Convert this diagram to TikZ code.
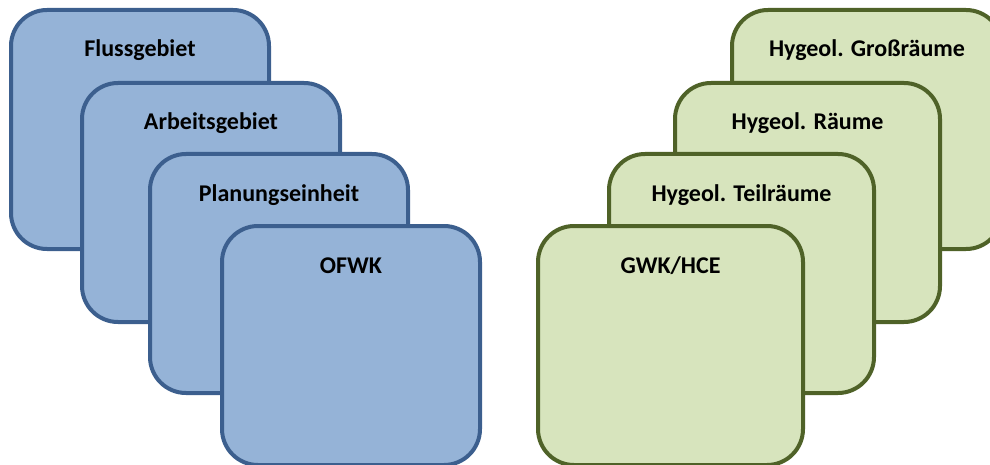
\documentclass[tikz,border=0pt]{standalone}
\usepackage{fontspec}
\setmainfont{Carlito}
\usetikzlibrary{positioning}
\definecolor{blueline}{HTML}{3C5F8E}
\definecolor{bluefill}{HTML}{95B3D7}
\definecolor{greenline}{HTML}{4F6228}
\definecolor{greenfill}{HTML}{D7E4BD}
\begin{document}
\begin{tikzpicture}[x=1pt,y=-1pt,font=\fontsize{24}{27}\selectfont\bfseries,
              lay/.style={draw,line width=4pt,rounded corners=36pt,anchor=north west,
              inner sep=0pt,text height=47pt,text depth=192pt,align=center},
              ow/.style={lay,draw=blueline,fill=bluefill,minimum width=258pt},
              gw/.style={lay,draw=greenline,fill=greenfill,minimum width=265pt}]
              \useasboundingbox (0,0) rectangle (990,465);
              % surface water
              \node[ow] (fg) at (9,8) {Flussgebiet};
              \node[ow] (ag) at (80,81) {Arbeitsgebiet};
              \node[ow] (pe) at (148,152) {Planungseinheit};
              \node[ow] (ofwk) at (220,224) {OFWK};
              % groundwater
              \node[gw,minimum width=270pt] (gr) at (730,8) {Hygeol. Großräume};
              \node[gw] (hr) at (673,81) {Hygeol. Räume};
              \node[gw] (tr) at (607,152) {Hygeol. Teilräume};
              \node[gw] (gwk) at (536,224) {GWK/HCE};
            \end{tikzpicture}
\end{document}
